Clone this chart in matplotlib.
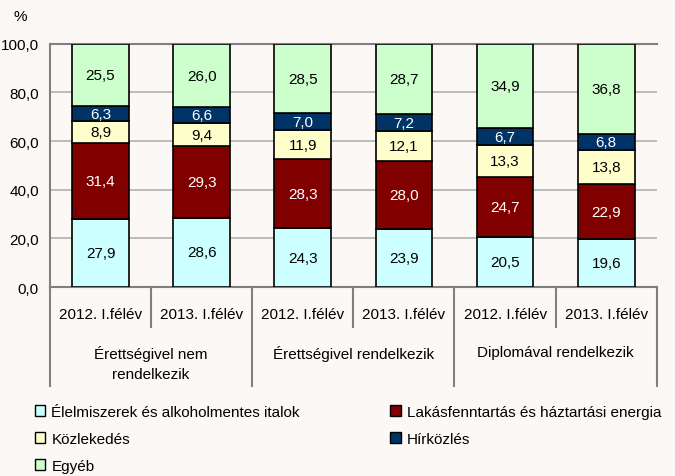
import numpy as np
import matplotlib.pyplot as plt
from matplotlib.patches import Patch

plt.rcParams['font.family'] = ['Liberation Sans', 'DejaVu Sans']

# Data
periods = ['2012. I.félév', '2013. I.félév'] * 3
groups = ['Érettségivel nem\nrendelkezik', 'Érettségivel rendelkezik', 'Diplomával rendelkezik']
series = ['Élelmiszerek és alkoholmentes italok', 'Lakásfenntartás és háztartási energia',
          'Közlekedés', 'Hírközlés', 'Egyéb']
elelmiszer = [27.9, 28.6, 24.3, 23.9, 20.5, 19.6]
lakas = [31.4, 29.3, 28.3, 28.0, 24.7, 22.9]
kozlekedes = [8.9, 9.4, 11.9, 12.1, 13.3, 13.8]
hirkozles = [6.3, 6.6, 7.0, 7.2, 6.7, 6.8]
egyeb = [25.5, 26.0, 28.5, 28.7, 34.9, 36.8]

values = [elelmiszer, lakas, kozlekedes, hirkozles, egyeb]
colors = ['#ccffff', '#800000', '#ffffcc', '#003366', '#ccffcc']
text_colors = ['black', 'white', 'black', 'white', 'black']

fig = plt.figure(figsize=(6.75, 4.77), dpi=100, facecolor='#fbf8f6')
ax = fig.add_axes([0.074, 0.396, 0.899, 0.51])
ax.set_facecolor('#fbf8f6')

x = np.arange(len(periods))
bottom = np.zeros(len(periods))
for vals, col, tcol in zip(values, colors, text_colors):
    vals = np.array(vals)
    ax.bar(x, vals, bottom=bottom, width=0.56, color=col, edgecolor='black', linewidth=1.2, zorder=3)
    for xi, b, v in zip(x, bottom, vals):
        ax.text(xi, b + v / 2, f'{v:.1f}'.replace('.', ','), ha='center', va='center',
                color=tcol, fontsize=11, zorder=4)
    bottom += vals

ax.set_xlim(-0.5, len(periods) - 0.5)
ax.set_ylim(0, 100)
ax.set_yticks(np.arange(0, 101, 20))
ax.set_yticklabels([f'{v:.1f}'.replace('.', ',') for v in np.arange(0, 101, 20)], fontsize=11)
ax.yaxis.grid(True, color='#b0b0b0', linewidth=1.2, zorder=0)
ax.tick_params(axis='y', length=0, pad=8)
ax.tick_params(axis='x', length=0, labelbottom=False)
for s in ax.spines.values():
    s.set_color('#808080')
    s.set_linewidth(1.5)
ax.spines['right'].set_visible(False)

fig.text(0.03, 0.965, '%', fontsize=11, ha='center', va='center')

# two-level category axis
trans = ax.get_xaxis_transform()
for i, p in enumerate(periods):
    ax.text(i, -0.11, p, transform=trans, ha='center', va='center', fontsize=11)
for i, g in enumerate(groups):
    ax.text(2 * i + 0.5, -0.24, g, transform=trans, ha='center', va='top',
            fontsize=11, linespacing=1.5)
for xs in np.arange(-0.5, len(periods), 1):
    depth = -0.405 if (xs + 0.5) % 2 == 0 else -0.165
    ax.plot([xs, xs], [0, depth], transform=trans, color='#808080', linewidth=1.5, clip_on=False)

order = [0, 2, 4, 1, 3]
handles = [Patch(facecolor=colors[i], edgecolor='black', label=series[i]) for i in order]
fig.legend(handles=handles, loc='upper left', bbox_to_anchor=(0.04, 0.165), ncol=2,
           frameon=False, fontsize=11, handlelength=0.7, handleheight=0.7,
           handletextpad=0.4, columnspacing=5.9, labelspacing=0.85, borderpad=0)

fig.savefig('out.png', dpi=100, facecolor=fig.get_facecolor())
